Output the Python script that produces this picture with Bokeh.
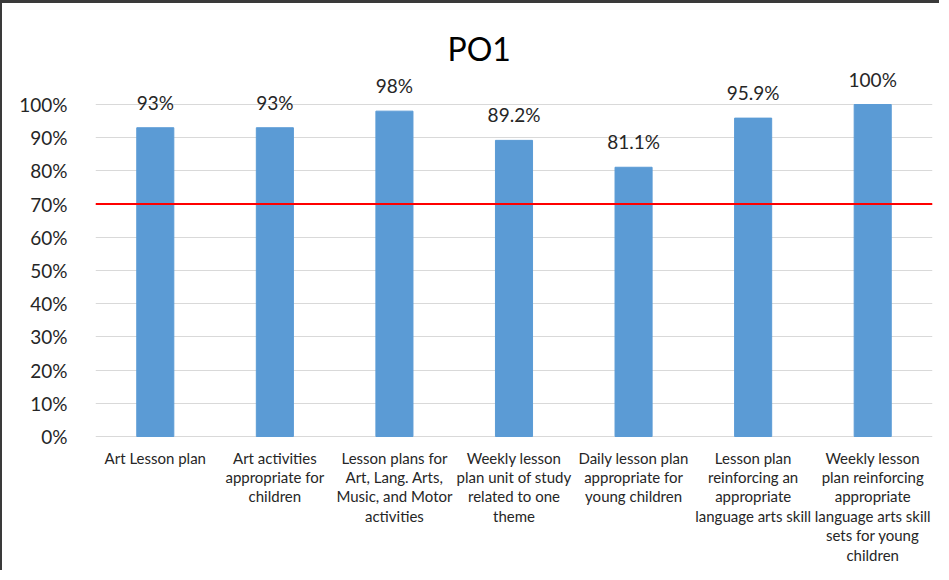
from bokeh.plotting import figure
from bokeh.models import ColumnDataSource, FixedTicker, Span, NumeralTickFormatter
from bokeh.core.properties import value
from bokeh.embed import file_html
from bokeh.resources import INLINE

categories = [
    "Art Lesson plan",
    "Art activities appropriate for children",
    "Lesson plans for Art, Lang. Arts, Music, and Motor activities",
    "Weekly lesson plan unit of study related to one theme",
    "Daily lesson plan appropriate for young children",
    "Lesson plan reinforcing an appropriate language arts skill",
    "Weekly lesson plan reinforcing appropriate language arts skill sets for young children",
]
tick_labels = [
    "Art Lesson plan",
    "Art activities\nappropriate for\nchildren",
    "Lesson plans for\nArt, Lang. Arts,\nMusic, and Motor\nactivities",
    "Weekly lesson\nplan unit of study\nrelated to one\ntheme",
    "Daily lesson plan\nappropriate for\nyoung children",
    "Lesson plan\nreinforcing an\nappropriate\nlanguage arts skill",
    "Weekly lesson\nplan reinforcing\nappropriate\nlanguage arts skill\nsets for young\nchildren",
]
values = [0.93, 0.93, 0.98, 0.892, 0.811, 0.959, 1.00]
value_labels = ["93%", "93%", "98%", "89.2%", "81.1%", "95.9%", "100%"]
target = 0.70
y_ticks = [0, 0.1, 0.2, 0.3, 0.4, 0.5, 0.6, 0.7, 0.8, 0.9, 1.0]

FONT = "Lato"
TXT = "#262626"

src = ColumnDataSource(dict(cat=categories, val=values, lab=value_labels,
                            tick=tick_labels, zero=[0] * len(categories)))

p = figure(
    x_range=categories,
    y_range=(-0.4036, 1.1175),
    width=939,
    height=570,
    output_backend="svg",
    toolbar_location=None,
    title="PO1",
    min_border_left=93,
    min_border_right=9,
    min_border_top=62,
    min_border_bottom=3,
    styles={"border-top": "3px solid #3a3a3a", "border-left": "2px solid #3a3a3a"},
)
p.outline_line_color = None
p.background_fill_color = "white"
p.border_fill_color = "white"

p.title.text_font = FONT
p.title.text_font_size = "32px"
p.title.text_font_style = "normal"
p.title.text_color = "#000000"
p.title.align = "left"
p.title.offset = 352
p.title.vertical_align = "bottom"
p.title.standoff = -4

p.vbar(x="cat", top="val", width=0.31, source=src, fill_color="#5B9BD5",
       line_color="#5B9BD5")

p.text(x="cat", y="val", text="lab", source=src, text_align="center",
       text_baseline="bottom", y_offset=-14, text_font=value(FONT),
       text_font_size="19px", text_color=TXT)

p.text(x="cat", y="zero", text="tick", source=src, text_align="center",
       text_baseline="top", y_offset=12, text_font=value(FONT),
       text_font_size="15px", text_line_height=1.08, text_color=TXT)

p.add_layout(Span(location=target, dimension="width", line_color="#FF0000",
                  line_width=2))

p.xgrid.grid_line_color = None
p.ygrid.grid_line_color = "#D9D9D9"
p.ygrid.grid_line_width = 1
p.ygrid.ticker = FixedTicker(ticks=y_ticks)

p.yaxis.ticker = FixedTicker(ticks=y_ticks)
p.yaxis.formatter = NumeralTickFormatter(format="0%")
p.yaxis.axis_line_color = None
p.yaxis.major_tick_line_color = None
p.yaxis.minor_tick_line_color = None
p.yaxis.major_label_text_font = FONT
p.yaxis.major_label_text_font_size = "19px"
p.yaxis.major_label_text_color = TXT
p.yaxis.major_label_standoff = 22

p.xaxis.visible = False

open("out.html", "w").write(file_html(p, INLINE))
